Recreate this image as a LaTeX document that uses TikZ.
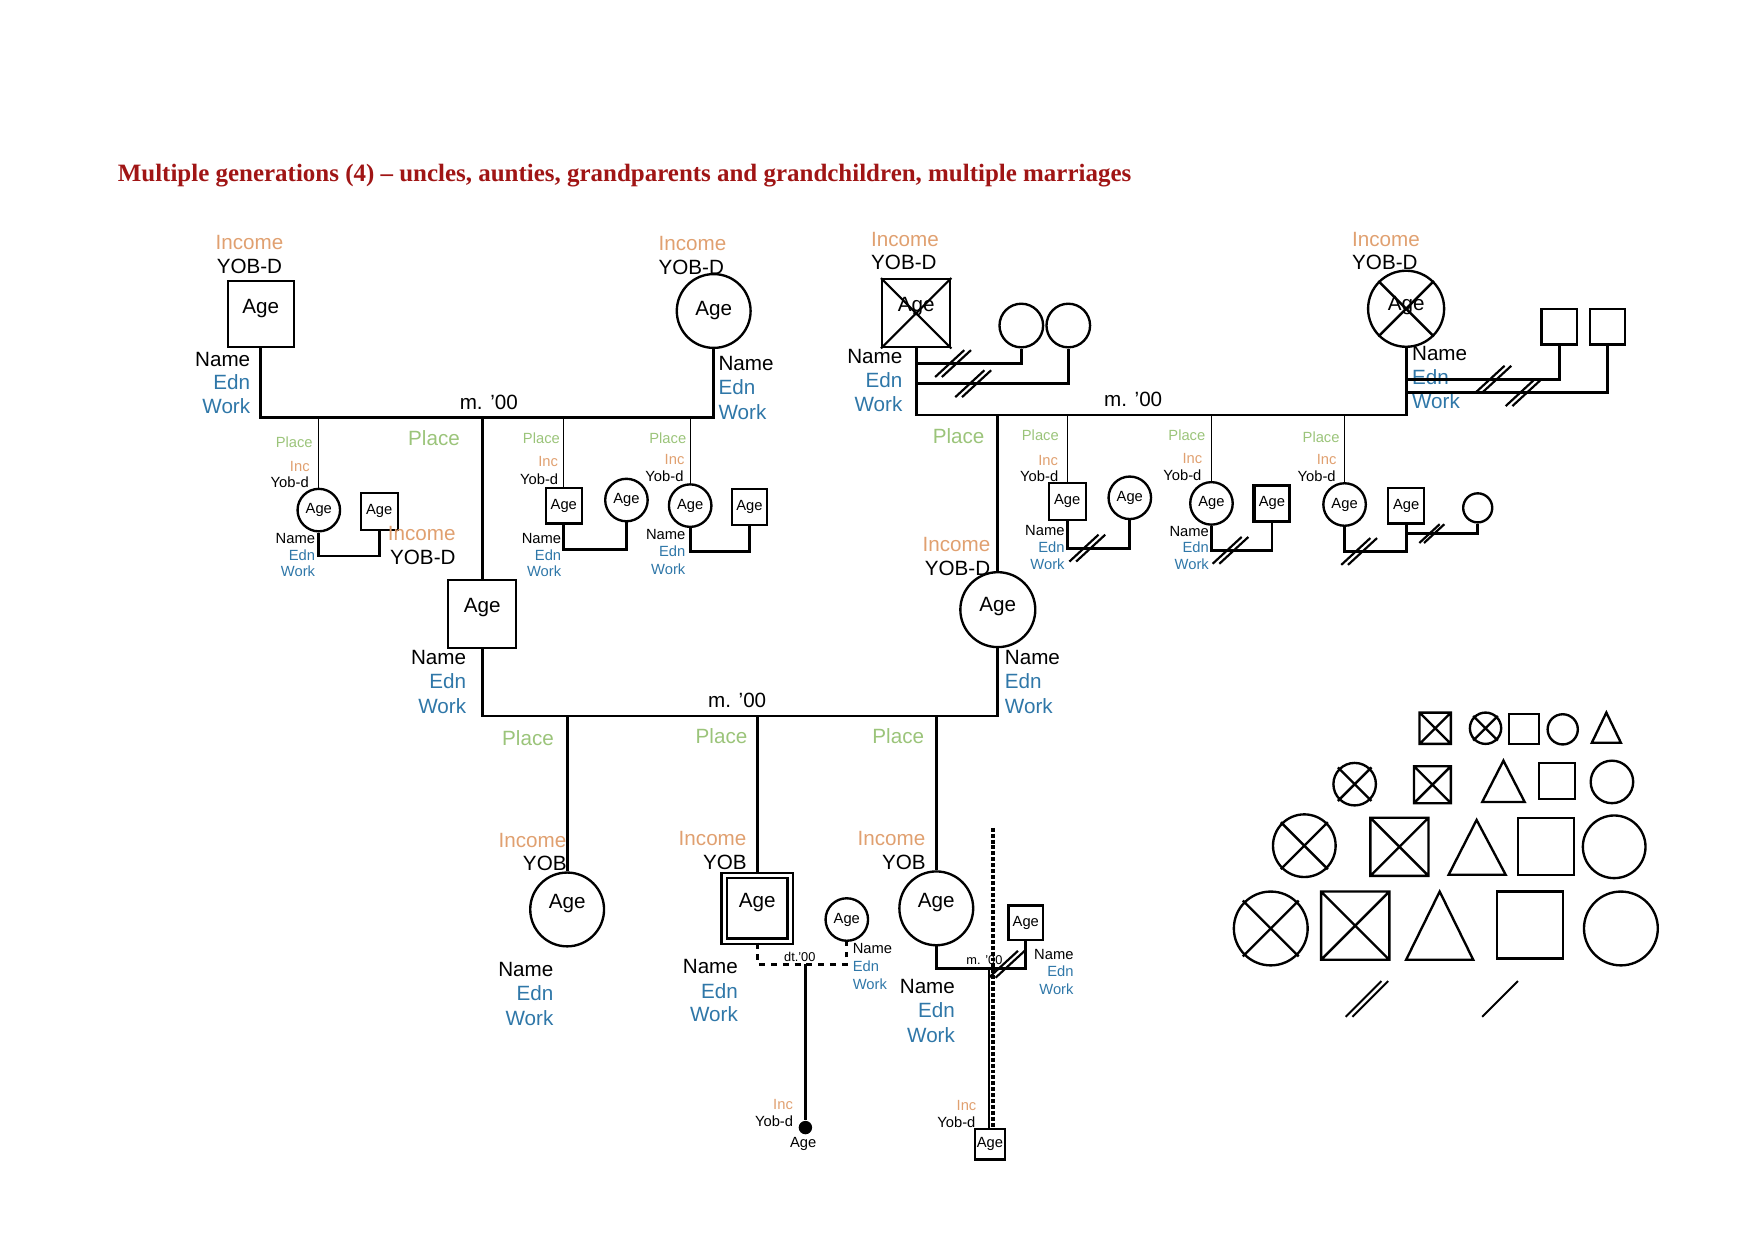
\documentclass[tikz,border=0pt]{standalone}
\usepackage{fontspec}
\setmainfont{Liberation Sans}
\newfontfamily\titlefont{Liberation Serif}
\usetikzlibrary{calc}
\definecolor{incol}{HTML}{E0A070}
\definecolor{plcol}{HTML}{9BC47A}
\definecolor{edcol}{HTML}{2F77A8}
\definecolor{ttlcol}{HTML}{A01515}

\tikzset{
  big/.style={font=\fontsize{10.5}{12}\selectfont,inner sep=0pt},
  sml/.style={font=\fontsize{7.5}{9}\selectfont,inner sep=0pt},
  tny/.style={font=\fontsize{6.5}{8}\selectfont,inner sep=0pt},
  inc/.style={text=incol},
  plc/.style={text=plcol},
  edn/.style={text=edcol},
  raised/.style={text depth=0.3cm},
  sq/.style={draw,rectangle,line width=1.1pt,minimum size=#1,inner sep=0pt},
  ci/.style={draw,circle,line width=1.2pt,minimum size=#1,inner sep=0pt},
  pl/.style={line width=1.4pt},
  kin/.style={line width=0.6pt},
  dv/.pic={\draw[line width=1.1pt] (-16,12) -- (10,-12) (-10,12) -- (16,-12);}
}

\begin{document}
\begin{tikzpicture}[x=0.02cm,y=-0.02cm,line join=miter]
  \useasboundingbox (0,0) rectangle (1568,1109);
  \node[font=\titlefont\bfseries\fontsize{12.7}{15}\selectfont,text=ttlcol,anchor=west,inner sep=0pt] (ttl) at (105,157)
    {Multiple generations (4) – uncles, aunties, grandparents and grandchildren, multiple marriages};

  % grandparents left
  \node[sq=1.18cm,big,raised] (gfa) at (233,281) {Age};
  \node[big,inc] (gfaI) at (223,217) {Income};
  \node[big] (gfaY) at (223,238) {YOB-D};
  \node[big,anchor=east] (gfaN) at (224,321) {Name};
  \node[big,edn,anchor=east] (gfaE) at (224,342) {Edn};
  \node[big,edn,anchor=east] (gfaW) at (224,363) {Work};
  \node[ci=1.32cm,big] (gma) at (638,278) {Age};
  \node[big,inc] (gmaI) at (619,218) {Income};
  \node[big] (gmaY) at (618,239) {YOB-D};
  \node[big,anchor=west] (gmaN) at (642,325) {Name};
  \node[big,edn,anchor=west] (gmaE) at (642,346) {Edn};
  \node[big,edn,anchor=west] (gmaW) at (642,368) {Work};
  \coordinate (ma) at (437,373);
  \draw[pl] (gfa.south) |- (ma) -| (gma.south);
  \node[big] (maL) at (437,360) {m. ’00};

  % their children
  \node[ci=0.76cm,sml] (ca1) at (285,456) {Age};
  \draw[kin] (ca1.north) -- (ca1.north |- ma);
  \node[sml,plc] (ca1P) at (263,395) {Place};
  \node[sml,inc] (ca1I) at (268,417) {Inc};
  \node[sml] (ca1Y) at (259,431) {Yob-d};
  \node[sml,anchor=east] (ca1N) at (282,481) {Name};
  \node[sml,edn,anchor=east] (ca1E) at (282,496) {Edn};
  \node[sml,edn,anchor=east] (ca1W) at (282,511) {Work};
  \node[sq=0.66cm,sml] (sa1) at (339,457) {Age};
  \coordinate (ua1) at (312,497);
  \draw[pl] (ca1.south) |- (ua1) -| (sa1.south);

  \node[big,plc] (faP) at (388,392) {Place};
  \node[sq=1.22cm,big,raised] (fa) at (431,549) {Age};
  \draw[pl] (fa.north) -- (fa.north |- ma);
  \node[big,inc] (faI) at (377,477) {Income};
  \node[big] (faY) at (378,498) {YOB-D};
  \node[big,anchor=east] (faN) at (417,588) {Name};
  \node[big,edn,anchor=east] (faE) at (417,609) {Edn};
  \node[big,edn,anchor=east] (faW) at (417,631) {Work};

  \node[sq=0.64cm,sml] (ca2) at (504,452) {Age};
  \draw[kin] (ca2.north) -- (ca2.north |- ma);
  \node[sml,plc] (ca2P) at (484,392) {Place};
  \node[sml,inc] (ca2I) at (490,413) {Inc};
  \node[sml] (ca2Y) at (482,428) {Yob-d};
  \node[sml,anchor=east] (ca2N) at (502,481) {Name};
  \node[sml,edn,anchor=east] (ca2E) at (502,496) {Edn};
  \node[sml,edn,anchor=east] (ca2W) at (502,511) {Work};
  \node[ci=0.76cm,sml] (sa2) at (560,447) {Age};
  \coordinate (ua2) at (532,491);
  \draw[pl] (ca2.south) |- (ua2) -| (sa2.south);

  \node[ci=0.76cm,sml] (ca3) at (617,452) {Age};
  \draw[kin] (ca3.north) -- (ca3.north |- ma);
  \node[sml,plc] (ca3P) at (597,392) {Place};
  \node[sml,inc] (ca3I) at (603,411) {Inc};
  \node[sml] (ca3Y) at (594,426) {Yob-d};
  \node[sml,anchor=east] (ca3N) at (613,478) {Name};
  \node[sml,edn,anchor=east] (ca3E) at (613,493) {Edn};
  \node[sml,edn,anchor=east] (ca3W) at (613,509) {Work};
  \node[sq=0.64cm,sml] (sa3) at (670,453) {Age};
  \coordinate (ua3) at (643,493);
  \draw[pl] (ca3.south) |- (ua3) -| (sa3.south);

  % grandparents right
  \node[sq=1.22cm,big,raised] (gfb) at (819,280) {Age};
  \draw[line width=1.1pt] (gfb.north west) -- (gfb.south east) (gfb.north east) -- (gfb.south west);
  \node[big,inc] (gfbI) at (809,214) {Income};
  \node[big] (gfbY) at (808,235) {YOB-D};
  \node[big,anchor=east] (gfbN) at (807,319) {Name};
  \node[big,edn,anchor=east] (gfbE) at (807,340) {Edn};
  \node[big,edn,anchor=east] (gfbW) at (807,361) {Work};
  \node[ci=0.78cm] (wb1) at (913,291) {};
  \node[ci=0.78cm] (wb2) at (955,291) {};
  \coordinate (eb1) at (866,325);
  \coordinate (eb2) at (887,343);
  \draw[pl] (gfb.south |- eb1) -| (wb1.south);
  \draw[pl] (gfb.south |- eb2) -| (wb2.south);
  \pic at (852,325) {dv};
  \pic at (870,343) {dv};

  \node[ci=1.36cm,big,text depth=0.2cm] (gmb) at (1257,276) {Age};
  \draw[line width=1.2pt] (gmb.north west) -- (gmb.south east) (gmb.north east) -- (gmb.south west);
  \node[big,inc] (gmbI) at (1239,214) {Income};
  \node[big] (gmbY) at (1238,235) {YOB-D};
  \node[big,anchor=west] (gmbN) at (1262,316) {Name};
  \node[big,edn,anchor=west] (gmbE) at (1262,337) {Edn};
  \node[big,edn,anchor=west] (gmbW) at (1262,359) {Work};
  \node[sq=0.64cm] (hb1) at (1394,292) {};
  \node[sq=0.64cm] (hb2) at (1437,292) {};
  \coordinate (fb1) at (1330,339);
  \coordinate (fb2) at (1350,351);
  \draw[pl] (gmb.south |- fb1) -| (hb1.south);
  \draw[pl] (gmb.south |- fb2) -| (hb2.south);
  \pic at (1335,339) {dv};
  \pic at (1362,351) {dv};
  \coordinate (mb) at (1013,371);
  \draw[pl] (gfb.south) |- (mb) -| (gmb.south);
  \node[big] (mbL) at (1013,357) {m. ’00};

  % their children
  \node[big,plc] (moP) at (857,390) {Place};
  \node[ci=1.34cm,big,text depth=0.2cm] (mo) at (892,545) {Age};
  \draw[pl] (mo.north) -- (mo.north |- mb);
  \node[big,inc] (moI) at (855,487) {Income};
  \node[big] (moY) at (856,508) {YOB-D};
  \node[big,anchor=west] (moN) at (898,588) {Name};
  \node[big,edn,anchor=west] (moE) at (898,609) {Edn};
  \node[big,edn,anchor=west] (moW) at (898,631) {Work};

  \node[sq=0.66cm,sml] (cb1) at (954,448) {Age};
  \draw[kin] (cb1.north) -- (cb1.north |- mb);
  \node[sml,plc] (cb1P) at (930,389) {Place};
  \node[sml,inc] (cb1I) at (937,412) {Inc};
  \node[sml] (cb1Y) at (929,426) {Yob-d};
  \node[sml,anchor=east] (cb1N) at (952,474) {Name};
  \node[sml,edn,anchor=east] (cb1E) at (952,489) {Edn};
  \node[sml,edn,anchor=east] (cb1W) at (952,504) {Work};
  \node[ci=0.76cm,sml] (sb1) at (1010,445) {Age};
  \coordinate (ub1) at (982,490);
  \draw[pl] (cb1.south) |- (ub1) -| (sb1.south);
  \pic at (972,490) {dv};

  \node[ci=0.76cm,sml] (cb2) at (1083,450) {Age};
  \draw[kin] (cb2.north) -- (cb2.north |- mb);
  \node[sml,plc] (cb2P) at (1061,389) {Place};
  \node[sml,inc] (cb2I) at (1066,410) {Inc};
  \node[sml] (cb2Y) at (1057,425) {Yob-d};
  \node[sml,anchor=east] (cb2N) at (1081,475) {Name};
  \node[sml,edn,anchor=east] (cb2E) at (1081,489) {Edn};
  \node[sml,edn,anchor=east] (cb2W) at (1081,504) {Work};
  \node[sq=0.64cm,sml,line width=1.6pt] (sb2) at (1137,450) {Age};
  \coordinate (ub2) at (1110,492);
  \draw[pl] (cb2.south) |- (ub2) -| (sb2.south);
  \pic at (1100,492) {dv};

  \node[ci=0.76cm,sml] (cb3) at (1202,451) {Age};
  \draw[kin] (cb3.north) -- (cb3.north |- mb);
  \node[sml,plc] (cb3P) at (1181,391) {Place};
  \node[sml,inc] (cb3I) at (1186,411) {Inc};
  \node[sml] (cb3Y) at (1177,426) {Yob-d};
  \node[sq=0.64cm,sml] (sb3) at (1257,452) {Age};
  \coordinate (ub3) at (1230,493);
  \draw[pl] (cb3.south) |- (ub3) -| (sb3.south);
  \pic at (1215,493) {dv};
  \node[ci=0.52cm] (sb4) at (1321,454) {};
  \coordinate (ub4) at (1290,477);
  \draw[pl] (sb3.south |- ub4) -| (sb4.south);
  \pic[scale=0.7] at (1280,477) {dv};

  % parents
  \coordinate (mc) at (660,640);
  \draw[pl] (fa.south) |- (mc) -| (mo.south);
  \node[big] (mcL) at (659,626) {m. ’00};
  \node[big,plc] (kaP) at (472,660) {Place};
  \node[big,plc] (kbP) at (645,658) {Place};
  \node[big,plc] (kcP) at (803,658) {Place};

  % grandchildren
  \node[ci=1.32cm,big,raised] (ka) at (507,813) {Age};
  \draw[pl] (ka.north) -- (ka.north |- mc);
  \node[big,inc] (kaI) at (476,751) {Income};
  \node[big] (kaY) at (487,772) {YOB};
  \node[big,anchor=east] (kaN) at (495,867) {Name};
  \node[big,edn,anchor=east] (kaE) at (495,888) {Edn};
  \node[big,edn,anchor=east] (kaW) at (495,910) {Work};

  \node[sq=1.18cm,big,raised,line width=1.3pt,double,double distance=1.3pt] (kb) at (677,812) {Age};
  \draw[pl] (kb.north) -- (kb.north |- mc);
  \node[big,inc] (kbI) at (637,750) {Income};
  \node[big] (kbY) at (648,771) {YOB};
  \node[big,anchor=east] (kbN) at (660,864) {Name};
  \node[big,edn,anchor=east] (kbE) at (660,886) {Edn};
  \node[big,edn,anchor=east] (kbW) at (660,907) {Work};
  \node[ci=0.76cm,sml] (pa) at (757,822) {Age};
  \node[sml,anchor=west] (paN) at (762,848) {Name};
  \node[sml,edn,anchor=west] (paE) at (762,864) {Edn};
  \node[sml,edn,anchor=west] (paW) at (762,880) {Work};
  \coordinate (da) at (720,862);
  \draw[pl,dashed] (kb.south) |- (da) -| (pa.south);
  \node[tny] (daL) at (715,855) {dt.’00};
  \node[circle,fill,inner sep=0pt,minimum size=0.24cm] (gd) at (720,1008) {};
  \draw[pl] (da) -- (gd);
  \node[sml,inc] (gdI) at (700,987) {Inc};
  \node[sml] (gdY) at (692,1002) {Yob-d};
  \node[sml] (gdA) at (718,1023) {Age};

  \node[ci=1.32cm,big,raised] (kc) at (837,812) {Age};
  \draw[pl] (kc.north) -- (kc.north |- mc);
  \node[big,inc] (kcI) at (797,750) {Income};
  \node[big] (kcY) at (808,771) {YOB};
  \node[big,anchor=east] (kcN) at (854,882) {Name};
  \node[big,edn,anchor=east] (kcE) at (854,903) {Edn};
  \node[big,edn,anchor=east] (kcW) at (854,925) {Work};
  \node[sq=0.62cm,sml] (pb) at (917,825) {Age};
  \node[sml,anchor=east] (pbN) at (960,853) {Name};
  \node[sml,edn,anchor=east] (pbE) at (960,868) {Edn};
  \node[sml,edn,anchor=east] (pbW) at (960,884) {Work};
  \coordinate (db) at (884,866);
  \draw[pl] (kc.south) |- (db) -| (pb.south);
  \node[tny] (dbL) at (880,858) {m. ’00};
  \pic at (900,862) {dv};
  \node[sq=0.54cm,sml] (qc) at (885,1023) {Age};
  \draw[line width=1pt] (db) -- (db |- qc.north);
  \coordinate (fo) at (888,740);
  \draw[line width=2pt,densely dotted] (fo) -- (fo |- qc.north);
  \node[sml,inc] (qcI) at (864,988) {Inc};
  \node[sml] (qcY) at (855,1003) {Yob-d};

  % symbols
  \draw[line width=1.2pt] (1269,637) rectangle (1297,665) (1269,637) -- (1297,665) (1297,637) -- (1269,665);
  \draw[line width=1.2pt] (1328,651) circle (14) (1317,640) -- (1339,662) (1339,640) -- (1317,662);
  \draw[line width=1.2pt] (1349,638) rectangle (1376,665);
  \draw[line width=1.2pt] (1397,652) circle (13.5);
  \draw[line width=1.2pt] (1423,664) -- (1436,637) -- (1449,664) -- cycle;
  \draw[line width=1.2pt] (1211,701) circle (19) (1196,686) -- (1226,716) (1226,686) -- (1196,716);
  \draw[line width=1.2pt] (1264,685) rectangle (1297,718) (1264,685) -- (1297,718) (1297,685) -- (1264,718);
  \draw[line width=1.2pt] (1325,717) -- (1344,680) -- (1363,717) -- cycle;
  \draw[line width=1.2pt] (1376,682) rectangle (1408,714);
  \draw[line width=1.2pt] (1441,699) circle (19);
  \draw[line width=1.2pt] (1166,756) circle (28) (1145,735) -- (1187,777) (1187,735) -- (1145,777);
  \draw[line width=1.2pt] (1225,731) rectangle (1277,783) (1225,731) -- (1277,783) (1277,731) -- (1225,783);
  \draw[line width=1.2pt] (1295,782) -- (1320,733) -- (1346,782) -- cycle;
  \draw[line width=1.2pt] (1357,731) rectangle (1407,782);
  \draw[line width=1.2pt] (1443,757) circle (28);
  \draw[line width=1.2pt] (1136,830) circle (33) (1111,805) -- (1161,855) (1161,805) -- (1111,855);
  \draw[line width=1.2pt] (1181,797) rectangle (1242,858) (1181,797) -- (1242,858) (1242,797) -- (1181,858);
  \draw[line width=1.2pt] (1257,858) -- (1287,797) -- (1317,858) -- cycle;
  \draw[line width=1.2pt] (1338,797) rectangle (1397,857);
  \draw[line width=1.2pt] (1449,830) circle (33);
  \draw[line width=1pt] (1203,909) -- (1235,877) (1209,909) -- (1241,877);
  \draw[line width=1pt] (1325,909) -- (1357,877);
\end{tikzpicture}
\end{document}
